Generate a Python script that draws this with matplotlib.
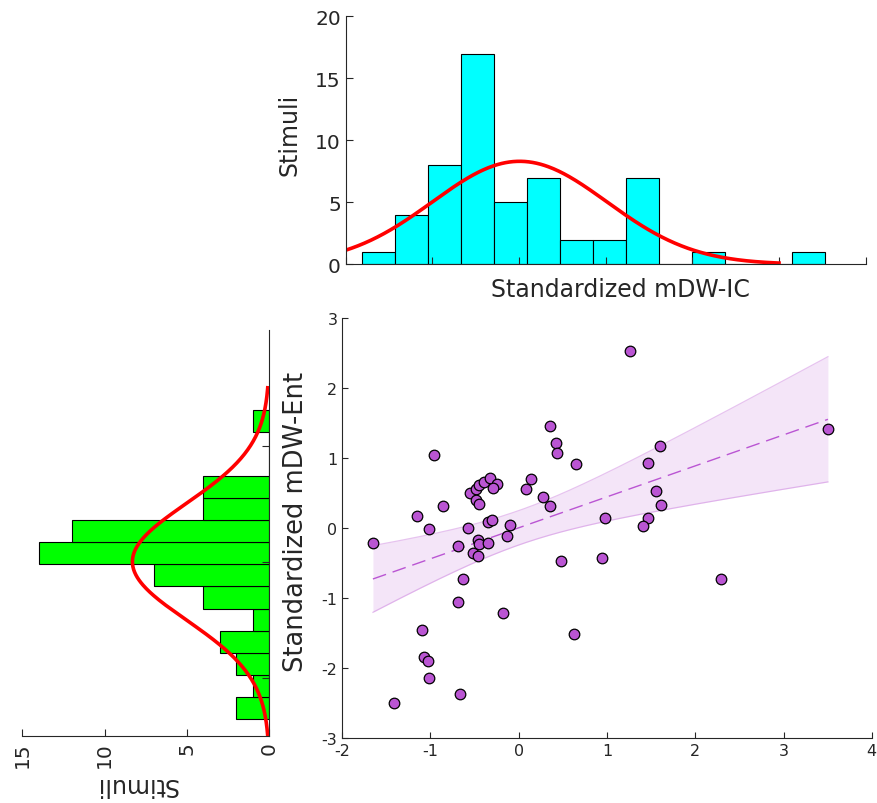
import numpy as np
import matplotlib
matplotlib.use("Agg")
import matplotlib.pyplot as plt

plt.rcParams['font.family'] = ['DejaVu Sans']
plt.rcParams['axes.unicode_minus'] = False

# scatter data (standardized)
ic = [-1.652, -0.964, -1.150, -1.012, -0.861, -0.691, -0.572, -0.553, -0.486, -0.486,
      -0.454, -0.446, -0.399, -0.327, -0.248, -0.288, -0.348, -0.300, -0.099, -0.137,
      -0.458, -0.450, -0.348, -0.517, -0.462, 0.079, 0.139, 0.273, 0.357, 0.349,
      0.427, 0.435, 0.649, 1.262, 0.978, 1.459, 1.597, 1.550, 1.610, 1.467,
      1.408, 3.503, 0.475, 0.941, 2.295, -0.626, -0.685, -0.180, 0.622, -1.092,
      -1.072, -1.029, -1.016, -0.669, -1.415]
ent = [-0.219, 1.043, 0.167, -0.014, 0.319, -0.262, 0.000, 0.495, 0.557, 0.405,
       0.348, 0.619, 0.652, 0.714, 0.629, 0.571, 0.081, 0.119, 0.048, -0.110,
       -0.171, -0.229, -0.210, -0.362, -0.395, 0.552, 0.700, 0.448, 0.314, 1.452,
       1.219, 1.067, 0.919, 2.529, 0.148, 0.924, 1.167, 0.524, 0.329, 0.148,
       0.033, 1.410, -0.476, -0.429, -0.724, -0.724, -1.052, -1.214, -1.519, -1.462,
       -1.838, -1.900, -2.143, -2.371, -2.505]

# histogram of mDW-IC (top)
ic_edges = [-1.809, -1.428, -1.047, -0.666, -0.285, 0.096, 0.477, 0.858, 1.239,
            1.620, 2.001, 2.382, 2.763, 3.144, 3.525]
ic_counts = [1, 4, 8, 17, 5, 7, 2, 2, 7, 0, 1, 0, 0, 1]

# histogram of mDW-Ent (left, rotated)
ent_edges = [-2.70, -2.32, -1.94, -1.56, -1.18, -0.80, -0.42, -0.04, 0.34, 0.72,
             1.10, 1.48, 1.86, 2.24, 2.62]
ent_counts = [2, 1, 2, 3, 1, 4, 7, 14, 12, 4, 4, 0, 0, 1]

x = np.array(ic)
y = np.array(ent)

W, H = 877, 804
fig = plt.figure(figsize=(W / 100, H / 100), dpi=100)

axcol = '#262626'
purple = '#BA55D3'


def fax(l, r, t, b):
    return fig.add_axes([l / W, 1 - b / H, (r - l) / W, (b - t) / H])


def style(ax):
    for s in ax.spines.values():
        s.set_color(axcol)
        s.set_linewidth(0.8)
    ax.tick_params(direction='in', colors=axcol, width=0.8, length=4)


def gauss(vals, edges, counts, grid):
    n = np.sum(counts)
    w = np.mean(np.diff(edges))
    mu, sd = np.mean(vals), np.std(vals, ddof=1)
    return n * w * np.exp(-0.5 * ((grid - mu) / sd) ** 2) / (sd * np.sqrt(2 * np.pi))


grid = np.linspace(-3, 3, 400)

# ---- top histogram ----
ax1 = fax(345.7, 865.7, 17.3, 265.3)
style(ax1)
e = np.array(ic_edges)
ax1.bar(e[:-1], ic_counts, width=np.diff(e), align='edge', color='#00FFFF',
        edgecolor='black', linewidth=0.8)
ax1.plot(grid, gauss(x, ic_edges, ic_counts, grid), color='red', lw=2.6)
ax1.set_xlim(-2, 4)
ax1.set_ylim(0, 20)
ax1.set_xticks(range(-2, 5))
ax1.set_xticklabels([])
ax1.set_yticks([0, 5, 10, 15, 20])
ax1.tick_params(labelsize=14.5, length=5)
ax1.spines['top'].set_visible(False)
ax1.spines['right'].set_visible(False)
fig.text(620 / W, 1 - 290 / H, 'Standardized mDW-IC', fontsize=17, color=axcol,
         ha='center', va='center')
fig.text(289 / W, 1 - 135 / H, 'Stimuli', fontsize=17, color=axcol,
         ha='center', va='center', rotation=90)

# ---- left histogram (rotated) ----
ax2 = fax(22.3, 269.3, 330.7, 737.3)
style(ax2)
e2 = np.array(ent_edges)
ax2.barh(e2[:-1], ent_counts, height=np.diff(e2), align='edge', color='#00FF00',
         edgecolor='black', linewidth=0.8)
ax2.plot(gauss(y, ent_edges, ent_counts, grid), grid, color='red', lw=2.6)
ax2.set_xlim(15, 0)
ax2.set_ylim(-3, 4)
ax2.set_xticks([15, 10, 5, 0])
ax2.set_xticklabels(['15', '10', '5', '0'], rotation=90)
ax2.set_yticks([-2, 0, 2])
ax2.set_yticklabels([])
ax2.yaxis.tick_right()
ax2.tick_params(axis='x', labelsize=14.5, length=5)
ax2.tick_params(axis='y', length=5)
ax2.spines['top'].set_visible(False)
ax2.spines['left'].set_visible(False)
fig.text(136 / W, 1 - 785 / H, 'Stimuli', fontsize=17, color=axcol,
         ha='center', va='center', rotation=180)
fig.text(296 / W, 1 - 521.5 / H, 'Standardized mDW-Ent', fontsize=18.5, color=axcol,
         ha='center', va='center', rotation=90)

# ---- scatter with regression ----
ax3 = fax(342.2, 871.8, 319, 739)
style(ax3)
b1, b0 = np.polyfit(x, y, 1)
xs = np.linspace(x.min(), x.max(), 200)
ys = b0 + b1 * xs
n = len(x)
resid = y - (b0 + b1 * x)
s = np.sqrt(np.sum(resid ** 2) / (n - 2))
sxx = np.sum((x - x.mean()) ** 2)
ci = 2.006 * s * np.sqrt(1 / n + (xs - x.mean()) ** 2 / sxx)
ax3.fill_between(xs, ys - ci, ys + ci, color=purple, alpha=0.15, lw=0)
ax3.plot(xs, ys + ci, color=purple, alpha=0.35, lw=0.9)
ax3.plot(xs, ys - ci, color=purple, alpha=0.35, lw=0.9)
ax3.plot(xs, ys, color=purple, lw=1.0, linestyle=(0, (10, 5)))
ax3.scatter(x, y, s=58, color=purple, edgecolor='black', linewidth=0.9, zorder=3)
ax3.set_xlim(-2, 4)
ax3.set_ylim(-3, 3)
ax3.set_xticks(range(-2, 5))
ax3.set_yticks(range(-3, 4))
ax3.tick_params(labelsize=11.5)
ax3.spines['top'].set_visible(False)
ax3.spines['right'].set_visible(False)

fig.savefig('out.png', dpi=100)
